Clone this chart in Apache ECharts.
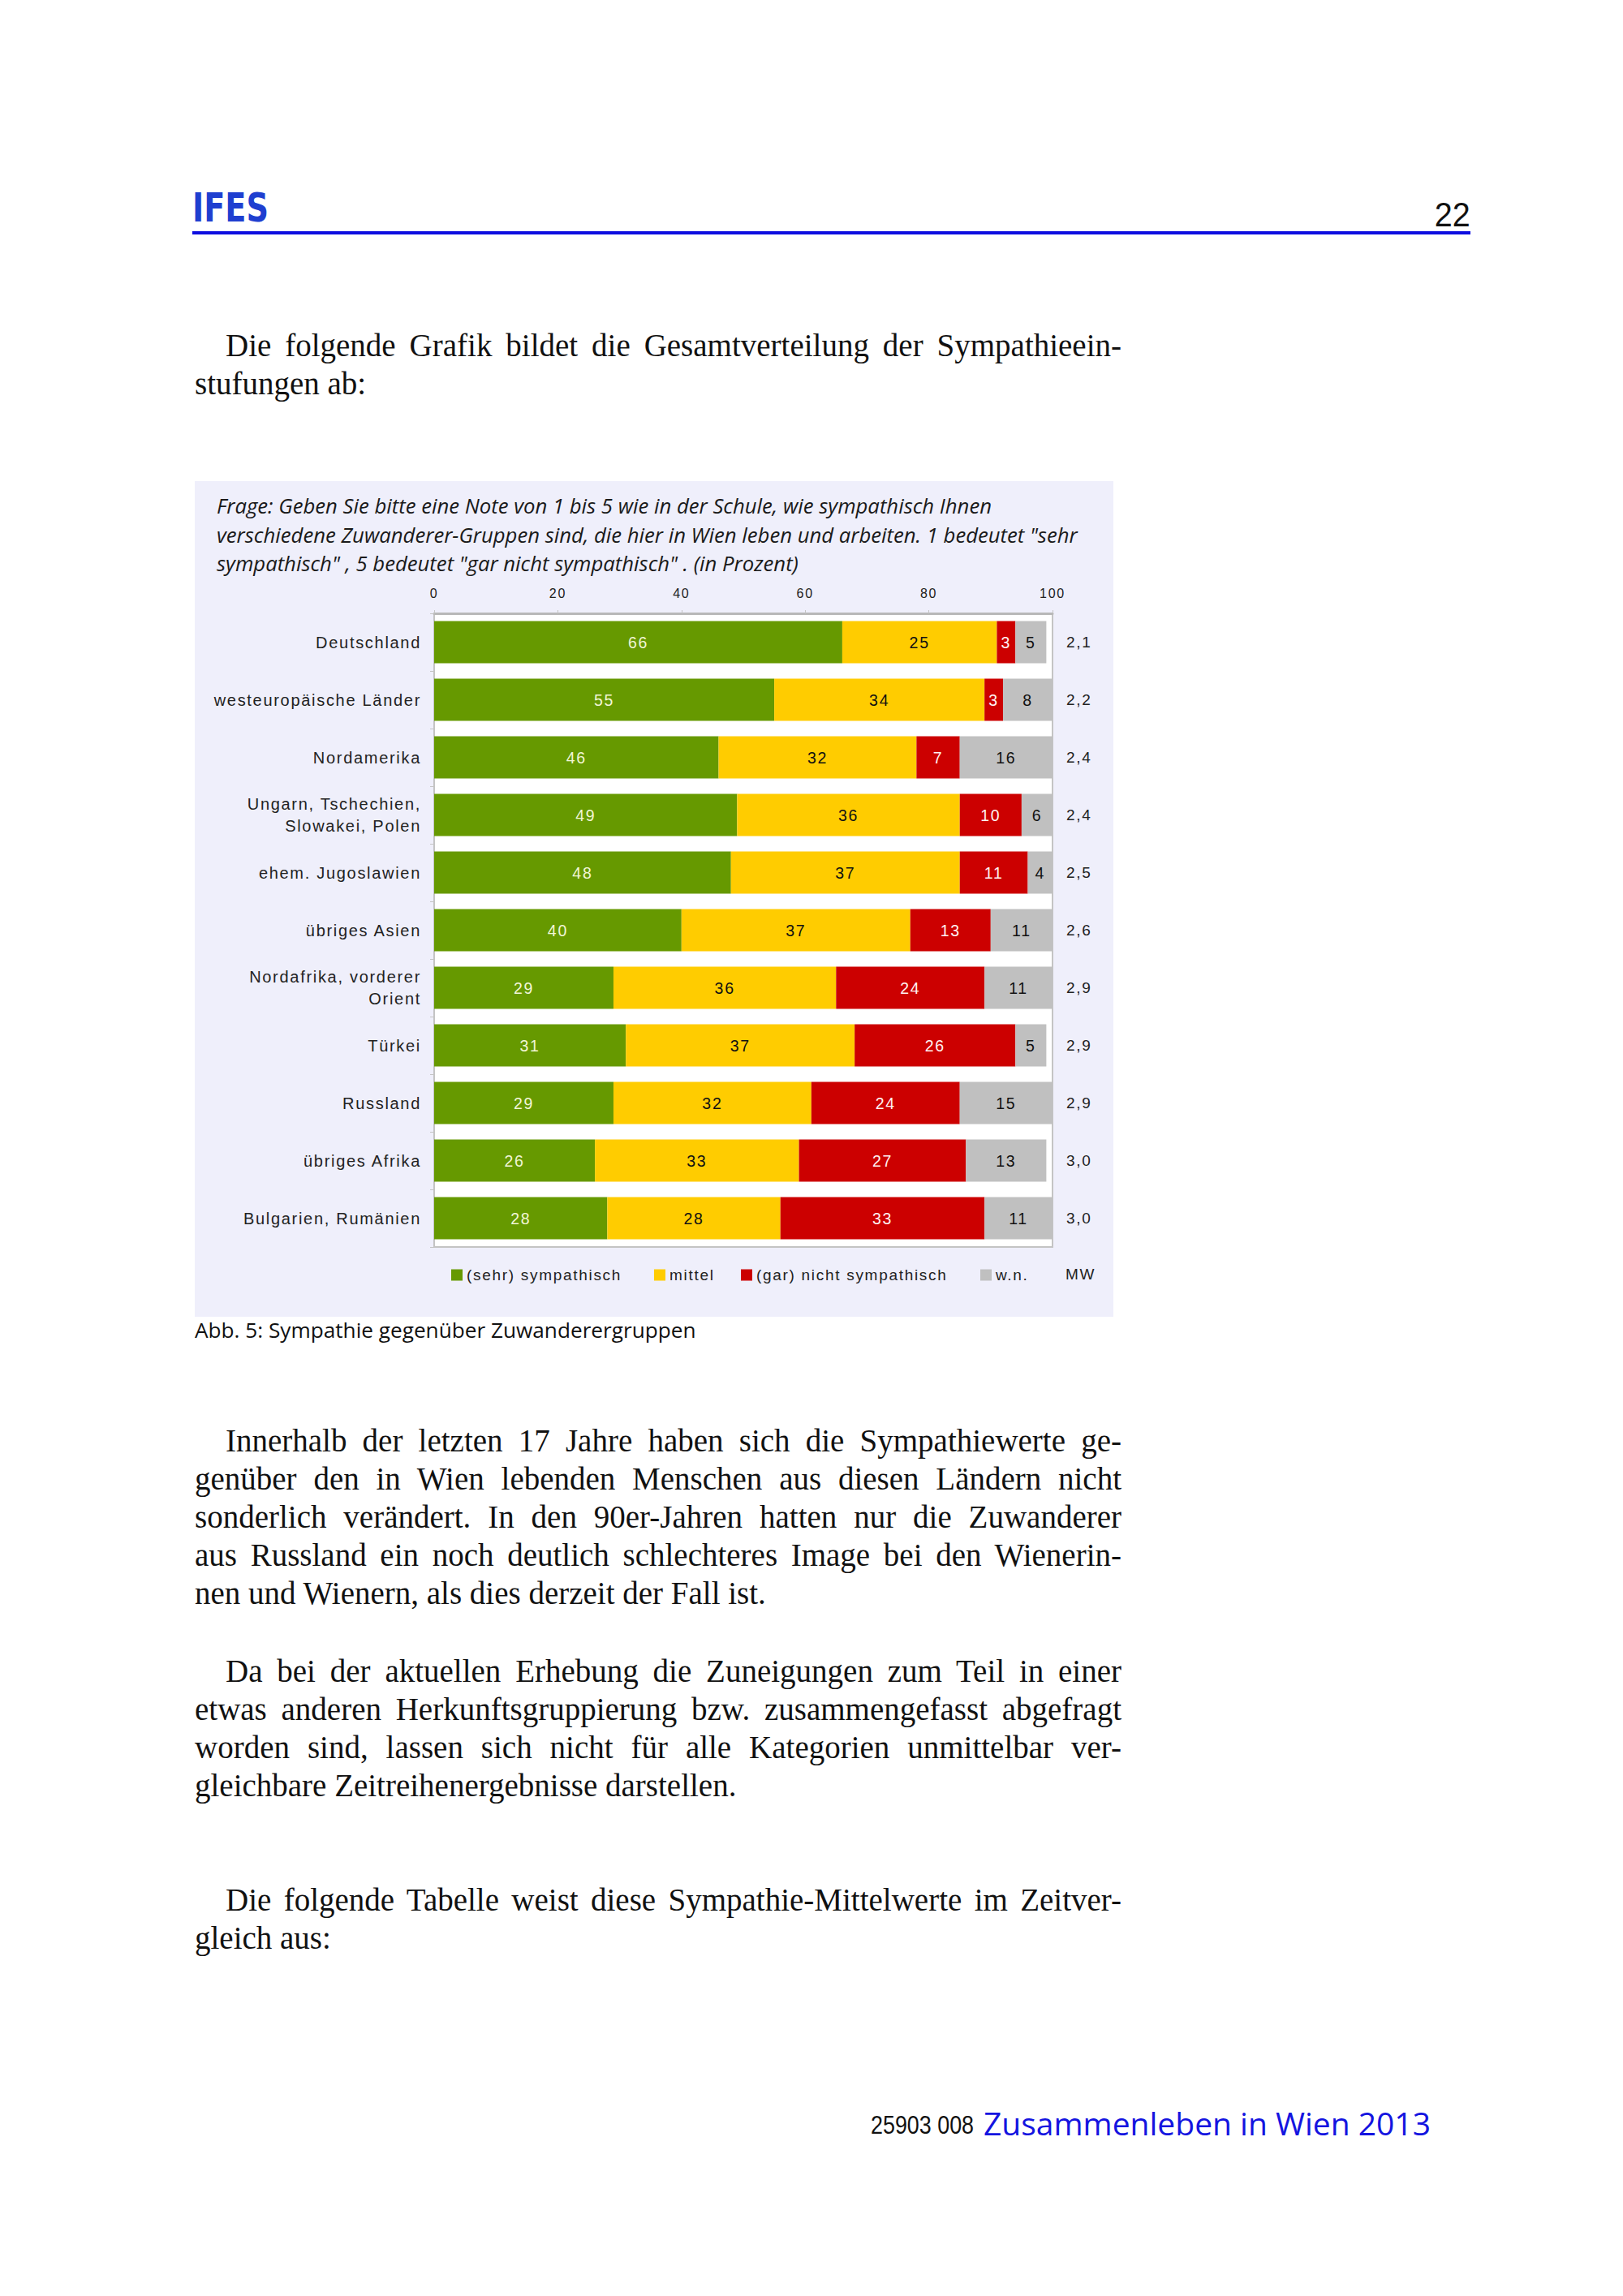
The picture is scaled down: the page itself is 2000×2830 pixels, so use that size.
<!DOCTYPE html>
<html>
<head>
<meta charset="utf-8">
<script src="https://cdn.jsdelivr.net/npm/echarts@6/dist/echarts.min.js"></script>
<style>
  html, body { margin:0; padding:0; background:#fff; }
  body { width:2000px; height:2830px; position:relative; overflow:hidden; color:#111; }
  .abs { position:absolute; }
  .ln { position:absolute; left:240px; width:1142px; height:47px; line-height:47px; font-family:'Liberation Serif', serif; font-size:39px; color:#111; text-align:justify; text-align-last:justify; }
  .ln.ind { left:278px; width:1104px; }
  .ln.last { text-align:left; text-align-last:left; white-space:nowrap; }
  #panel { position:absolute; left:240px; top:593px; width:1132px; height:1030px; background:#efeffb; }
  .q { position:absolute; left:27px; height:36px; line-height:36px; font-family:'Open Sans', sans-serif; font-style:italic; font-size:25.7px; color:#1a1a1a; white-space:nowrap; }
  #chart { position:absolute; left:0; top:0; width:1132px; height:1030px; }
  #chart text { letter-spacing:1.7px; }
</style>
</head>
<body>
<div class="abs" style="left:237px;top:229px;height:56px;line-height:56px;font-family:'DejaVu Sans';font-weight:bold;font-size:49px;color:#1f3fd0;transform:scaleX(0.78);transform-origin:0 0;">IFES</div>
<div class="abs" style="left:1712px;top:238px;height:52px;line-height:52px;width:100px;text-align:right;font-family:'Liberation Sans';font-size:43px;color:#111;"><span style="display:inline-block;transform:scaleX(0.92);transform-origin:100% 50%;">22</span></div>
<div class="abs" style="left:237px;top:285px;width:1575px;height:4px;background:#0d0de0;"></div>

<div class="ln ind" style="top:402px;">Die folgende Grafik bildet die Gesamtverteilung der Sympathieein-</div>
<div class="ln last" style="top:449px;">stufungen ab:</div>

<div id="panel">
  <div class="q" style="top:13px;">Frage: Geben Sie bitte eine Note von 1 bis 5 wie in der Schule, wie sympathisch Ihnen</div>
  <div class="q" style="top:49px;">verschiedene Zuwanderer-Gruppen sind, die hier in Wien leben und arbeiten. 1 bedeutet "sehr</div>
  <div class="q" style="top:84px;">sympathisch" , 5 bedeutet "gar nicht sympathisch" . (in Prozent)</div>
  <div id="chart"></div>
</div>

<div class="abs" style="left:240px;top:1619px;height:40px;line-height:40px;font-family:'Open Sans',sans-serif;font-size:26.2px;color:#111;white-space:nowrap;">Abb. 5: Sympathie gegenüber Zuwanderergruppen</div>

<div class="ln ind" style="top:1752px;">Innerhalb der letzten 17 Jahre haben sich die Sympathiewerte ge-</div>
<div class="ln" style="top:1799px;">genüber den in Wien lebenden Menschen aus diesen Ländern nicht</div>
<div class="ln" style="top:1846px;">sonderlich verändert. In den 90er-Jahren hatten nur die Zuwanderer</div>
<div class="ln" style="top:1893px;">aus Russland ein noch deutlich schlechteres Image bei den Wienerin-</div>
<div class="ln last" style="top:1940px;">nen und Wienern, als dies derzeit der Fall ist.</div>

<div class="ln ind" style="top:2036px;">Da bei der aktuellen Erhebung die Zuneigungen zum Teil in einer</div>
<div class="ln" style="top:2083px;">etwas anderen Herkunftsgruppierung bzw. zusammengefasst abgefragt</div>
<div class="ln" style="top:2130px;">worden sind, lassen sich nicht für alle Kategorien unmittelbar ver-</div>
<div class="ln last" style="top:2177px;">gleichbare Zeitreihenergebnisse darstellen.</div>

<div class="ln ind" style="top:2318px;">Die folgende Tabelle weist diese Sympathie-Mittelwerte im Zeitver-</div>
<div class="ln last" style="top:2365px;">gleich aus:</div>

<div class="abs" style="left:1073px;top:2594px;height:50px;line-height:50px;white-space:nowrap;font-family:'Liberation Sans';font-size:32px;color:#111;transform:scaleX(0.84);transform-origin:0 50%;">25903 008</div>
<div class="abs" style="left:1212px;top:2592px;height:50px;line-height:50px;white-space:nowrap;font-family:'Open Sans',sans-serif;font-size:39px;color:#1414e0;">Zusammenleben in Wien 2013</div>

<script>
var categories = ['Deutschland', 'westeuropäische Länder', 'Nordamerika', 'Ungarn, Tschechien,\nSlowakei, Polen', 'ehem. Jugoslawien', 'übriges Asien', 'Nordafrika, vorderer\nOrient', 'Türkei', 'Russland', 'übriges Afrika', 'Bulgarien, Rumänien'];
var sympathisch = [66, 55, 46, 49, 48, 40, 29, 31, 29, 26, 28];
var mittel = [25, 34, 32, 36, 37, 37, 36, 37, 32, 33, 28];
var nichtSympathisch = [3, 3, 7, 10, 11, 13, 24, 26, 24, 27, 33];
var wn = [5, 8, 16, 6, 4, 11, 11, 5, 15, 13, 11];
var mw = ['2,1', '2,2', '2,4', '2,4', '2,5', '2,6', '2,9', '2,9', '2,9', '3,0', '3,0'];
var seriesNames = ['(sehr) sympathisch', 'mittel', '(gar) nicht sympathisch', 'w.n.'];
var xTicks = [0, 20, 40, 60, 80, 100];

// keep justified body lines on a single line
Array.prototype.forEach.call(document.querySelectorAll('.ln'), function (el) {
  var ls = 0;
  while (el.scrollHeight > 52 && ls > -2) { ls -= 0.1; el.style.letterSpacing = ls.toFixed(1) + 'px'; }
});

var colors = ['#669900', '#ffcc00', '#cc0000', '#c0c0c0'];
var labelColors = ['#f2f6d6', '#111111', '#fff2f2', '#111111'];
var values = [sympathisch, mittel, nichtSympathisch, wn];

var chart = echarts.init(document.getElementById('chart'), null, {renderer: 'svg', width: 1132, height: 1030});
var FONT = 'Liberation Sans';

var series = values.map(function (v, i) {
  return {
    name: seriesNames[i],
    type: 'bar',
    stack: 'total',
    barWidth: 52,
    yAxisIndex: 0,
    data: v,
    itemStyle: {color: colors[i]},
    label: {show: true, position: 'inside', color: labelColors[i], fontSize: 19.5, fontFamily: FONT},
    emphasis: {disabled: true}
  };
});

var legendLefts = [311, 561, 668, 963];
var legends = seriesNames.map(function (n, i) {
  return {
    data: [n], left: legendLefts[i], top: 964, itemWidth: 14, itemHeight: 14, icon: 'rect',
    textStyle: {fontSize: 19, color: '#222', fontFamily: FONT}, selectedMode: false
  };
});

chart.setOption({
  animation: false,
  color: colors,
  textStyle: {fontFamily: FONT},
  grid: {left: 295, top: 163, width: 762, height: 781, show: true, backgroundColor: '#ffffff', borderColor: '#c4c4c4', borderWidth: 2},
  xAxis: {
    type: 'value', position: 'top', min: xTicks[0], max: xTicks[xTicks.length - 1], interval: xTicks[1] - xTicks[0],
    axisLine: {show: true, lineStyle: {color: '#b8b8b8', width: 3}},
    axisTick: {show: true, length: 4, lineStyle: {color: '#c4c4c4'}},
    axisLabel: {fontSize: 16, color: '#222', margin: 17, fontFamily: FONT},
    splitLine: {show: false}
  },
  yAxis: [{
    type: 'category', inverse: true, data: categories,
    axisLine: {show: true, lineStyle: {color: '#c4c4c4', width: 2}},
    axisTick: {show: true, length: 5, lineStyle: {color: '#c4c4c4'}},
    axisLabel: {fontSize: 20, color: '#222', margin: 16, lineHeight: 27, fontFamily: FONT}
  }, {
    type: 'category', inverse: true, position: 'right', data: mw,
    axisLine: {show: false}, axisTick: {show: false},
    axisLabel: {fontSize: 19, color: '#222', margin: 17, fontFamily: FONT}
  }],
  legend: legends,
  graphic: [{
    type: 'text', left: 1073, top: 968,
    style: {text: 'MW', fontSize: 19, fill: '#222', fontFamily: FONT}
  }],
  series: series
});
</script>
</body>
</html>
